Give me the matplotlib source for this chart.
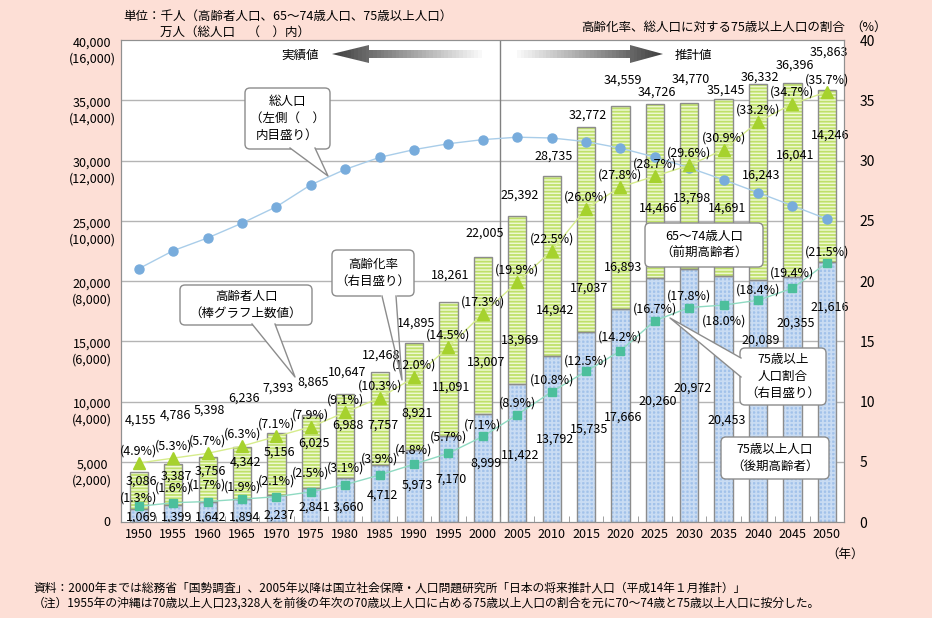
import matplotlib
matplotlib.use("Agg")
import matplotlib.pyplot as plt
from matplotlib.patches import FancyBboxPatch, Polygon
import numpy as np

plt.rcParams["font.family"] = ["Noto Sans CJK JP", "DejaVu Sans"]
plt.rcParams["hatch.linewidth"] = 1.3

# data (thousand persons / %, total population in 10 thousand persons)
years = [1950, 1955, 1960, 1965, 1970, 1975, 1980, 1985, 1990, 1995, 2000,
         2005, 2010, 2015, 2020, 2025, 2030, 2035, 2040, 2045, 2050]
elderly_total = [4155, 4786, 5398, 6236, 7393, 8865, 10647, 12468, 14895, 18261, 22005,
                 25392, 28735, 32772, 34559, 34726, 34770, 35145, 36332, 36396, 35863]
age_65_74 = [3086, 3387, 3756, 4342, 5156, 6025, 6988, 7757, 8921, 11091, 13007,
             13969, 14942, 17037, 16893, 14466, 13798, 14691, 16243, 16041, 14246]
age_75_plus = [1069, 1399, 1642, 1894, 2237, 2841, 3660, 4712, 5973, 7170, 8999,
               11422, 13792, 15735, 17666, 20260, 20972, 20453, 20089, 20355, 21616]
aging_rate = [4.9, 5.3, 5.7, 6.3, 7.1, 7.9, 9.1, 10.3, 12.0, 14.5, 17.3,
              19.9, 22.5, 26.0, 27.8, 28.7, 29.6, 30.9, 33.2, 34.7, 35.7]
rate_75_plus = [1.3, 1.6, 1.7, 1.9, 2.1, 2.5, 3.1, 3.9, 4.8, 5.7, 7.1,
                8.9, 10.8, 12.5, 14.2, 16.7, 17.8, 18.0, 18.4, 19.4, 21.5]
total_pop = [8411, 9008, 9430, 9921, 10467, 11194, 11706, 12105, 12361, 12557, 12693,
             12774, 12747, 12627, 12411, 12114, 11758, 11360, 10934, 10500, 10059]

# label placement (pixel offsets)
total_dy = [52, 49, 47, 49, 45, 33, 22, 17, 19, 27, 24, 21, 20, 12, 25, 11, 24, 8, 7, 18, 38]
mid_dy = [28, 29, 31, 37, 43, 45, 53, 40, 37, 48, 51, 44, 46, 44, 42, 70, 71, 67, 105, 122, 126]
old_dy = [-8, -12, -15, -18, -20, -19, -29, -30, -35, -44, -50, -71, -83, -97, -108, -123,
          -119, -145, -60, -46, -46]
r75_dy = [8, 15, 16, 12, 16, 19, 17, 16, 14, 16, 11, 12, 12, 10, 14, 12, 11, -16, 10, 15, 11]

GREEN_FC = "#eef8d2"
GREEN_HATCH = "#bfe06a"
BLUE_FC = "#a2c2ea"
BLUE_HATCH = "#c9dcf3"
EDGE = "#8c8c8c"
FS = 9

x = np.arange(len(years))
fig = plt.figure(figsize=(9.32, 6.18), dpi=100, facecolor="#fddfd6")
ax = fig.add_axes([121 / 932, 96 / 618, 723 / 932, 482 / 618])
ax.set_xlim(-0.52, 20.5)
ax.set_ylim(0, 40000)

for v in range(5000, 40000, 5000):
    ax.axhline(v, color="#b4b4b4", lw=1, zorder=0)
ax.axvline(10.5, color="#808080", lw=1, zorder=1)

w = 0.53
ax.bar(x, age_75_plus, w, color=BLUE_FC, edgecolor=BLUE_HATCH, hatch="++++", lw=0, zorder=2)
ax.bar(x, age_65_74, w, bottom=age_75_plus, color=GREEN_FC, edgecolor=GREEN_HATCH,
       hatch="-----", lw=0, zorder=2)
ax.bar(x, age_75_plus, w, fill=False, edgecolor=EDGE, lw=1, zorder=3)
ax.bar(x, age_65_74, w, bottom=age_75_plus, fill=False, edgecolor=EDGE, lw=1, zorder=3)

ax.plot(x, np.array(total_pop) * 2.5, color="#a9cde9", lw=1, marker="o", ms=6.5,
        mfc="#78acdc", mec="#78acdc", zorder=4)

for i in x:
    ax.annotate(f"{elderly_total[i]:,}", (i, elderly_total[i]), xytext=(2, total_dy[i]),
                textcoords="offset pixels", ha="center", va="center", fontsize=FS, zorder=6)
    ax.annotate(f"{age_65_74[i]:,}", (i, age_75_plus[i]), xytext=(3, mid_dy[i]),
                textcoords="offset pixels", ha="center", va="center", fontsize=FS, zorder=6)
    ax.annotate(f"{age_75_plus[i]:,}", (i, age_75_plus[i]), xytext=(3, old_dy[i]),
                textcoords="offset pixels", ha="center", va="center", fontsize=FS, zorder=6)

# left axis labels
ax.set_yticks(range(0, 40001, 5000))
ax.set_yticklabels([])
ax.tick_params(axis="y", length=0)
for v in range(5000, 40001, 5000):
    ax.annotate(f"{v:,}\n({v * 0.4:,.0f})", (0, v), xycoords=("axes fraction", "data"),
                xytext=(-29, -11), textcoords="offset pixels", ha="center", va="center",
                fontsize=FS, linespacing=1.3, multialignment="center")
ax.annotate("0", (0, 0), xycoords=("axes fraction", "data"), xytext=(-14, 0),
            textcoords="offset pixels", ha="center", va="center", fontsize=FS)

ax.set_xticks(x)
ax.set_xticklabels(years, fontsize=FS)
ax.tick_params(axis="x", length=0, pad=4)
ax.set_xticks(x[:-1] + 0.5, minor=True)
ax.tick_params(axis="x", which="minor", direction="in", length=4, color="#909090")
for s in ax.spines.values():
    s.set_color("#909090")

# right axis: rates
ax2 = ax.twinx()
ax2.set_ylim(0, 40)
ax2.set_yticks(range(0, 41, 5))
ax2.tick_params(axis="y", length=0, pad=11, labelsize=FS + 1)
ax2.plot(x, aging_rate, color="#d6ec8c", lw=1, marker="^", ms=8.5,
         mfc="#a6d22e", mec="#a6d22e", zorder=4)
ax2.plot(x, rate_75_plus, color="#8fdac2", lw=1, marker="s", ms=6,
         mfc="#4cbf9c", mec="#4cbf9c", zorder=4)
for i in x:
    ax2.annotate(f"({aging_rate[i]:.1f}%)", (i, aging_rate[i]), xytext=(0, 12),
                 textcoords="offset pixels", ha="center", va="center", fontsize=FS, zorder=6)
    ax2.annotate(f"({rate_75_plus[i]:.1f}%)", (i, rate_75_plus[i]), xytext=(0, r75_dy[i]),
                 textcoords="offset pixels", ha="center", va="center", fontsize=FS, zorder=6)
for s in ax2.spines.values():
    s.set_color("#909090")

# overlay in pixel coordinates for callouts, arrows and notes
ov = fig.add_axes([0, 0, 1, 1], zorder=10)
ov.set_xlim(0, 932)
ov.set_ylim(618, 0)
ov.axis("off")


def callout(x0, y0, x1, y1, text, tail=None, fill_tail=True):
    ov.add_patch(FancyBboxPatch((x0, y0), x1 - x0, y1 - y0,
                                boxstyle="round,pad=0,rounding_size=5",
                                fc="white", ec=EDGE, lw=1, zorder=3))
    if tail:
        a, b, tip = tail
        if fill_tail:
            ov.add_patch(Polygon([a, tip, b], closed=True, fc="white", ec="none", zorder=4))
        else:
            ov.plot([a[0], b[0]], [a[1], b[1]], color="white", lw=1.5, zorder=4)
        ov.plot([a[0], tip[0], b[0]], [a[1], tip[1], b[1]], color=EDGE, lw=1, zorder=5)
    ov.text((x0 + x1) / 2, (y0 + y1) / 2, text, ha="center", va="center",
            fontsize=FS, linespacing=1.4, zorder=6)


callout(245, 88, 330, 149, "総人口\n（左側（　）\n内目盛り）",
        ((290, 148), (315, 148), (328, 176)))
callout(180, 285, 312, 325, "高齢者人口\n（棒グラフ上数値）",
        ((252, 324), (275, 324), (295, 377)))
callout(332, 250, 414, 296, "高齢化率\n（右目盛り）",
        ((382, 296), (396, 296), (402, 380)), fill_tail=False)
callout(645, 223, 763, 267, "65～74歳人口\n（前期高齢者）")
callout(740, 348, 826, 405, "75歳以上\n人口割合\n（右目盛り）",
        ((741, 358), (741, 377), (670, 318)))
callout(721, 437, 829, 479, "75歳以上人口\n（後期高齢者）")


def grad_arrow(pts, x0, x1, dark_left):
    poly = Polygon(pts, closed=True, fc="none", ec="none")
    ov.add_patch(poly)
    g = np.linspace(0.25, 0.97, 40)
    if not dark_left:
        g = g[::-1]
    im = ov.imshow(g[None, :], cmap="gray", vmin=0, vmax=1, extent=(x0, x1, 63, 45),
                   aspect="auto", interpolation="nearest", zorder=2)
    im.set_clip_path(poly)


grad_arrow([(332, 54), (369, 45), (369, 50), (482, 50), (482, 58), (369, 58), (369, 63)],
           332, 482, True)
grad_arrow([(517, 50), (630, 50), (630, 45), (663, 54), (630, 63), (630, 58), (517, 58)],
           517, 663, False)
ov.set_xlim(0, 932)
ov.set_ylim(618, 0)
ov.text(300, 55, "実績値", ha="center", va="center", fontsize=FS)
ov.text(693, 55, "推計値", ha="center", va="center", fontsize=FS)

ov.text(123, 16, "単位：千人（高齢者人口、65～74歳人口、75歳以上人口）", ha="left", va="center", fontsize=FS)
ov.text(160, 32, "万人（総人口　（　）内）", ha="left", va="center", fontsize=FS)
ov.text(845, 27, "高齢化率、総人口に対する75歳以上人口の割合", ha="right", va="center", fontsize=FS)
ov.text(869, 27, "（%）", ha="center", va="center", fontsize=FS)
ov.text(845, 554, "（年）", ha="center", va="center", fontsize=FS)

ov.text(33, 588, "資料：2000年までは総務省「国勢調査」、2005年以降は国立社会保障・人口問題研究所「日本の将来推計人口（平成14年１月推計）」",
        ha="left", va="center", fontsize=8.5)
ov.text(33, 603, "（注）1955年の沖縄は70歳以上人口23,328人を前後の年次の70歳以上人口に占める75歳以上人口の割合を元に70～74歳と75歳以上人口に按分した。",
        ha="left", va="center", fontsize=8.5)

fig.savefig("out.png", dpi=100, facecolor=fig.get_facecolor())
